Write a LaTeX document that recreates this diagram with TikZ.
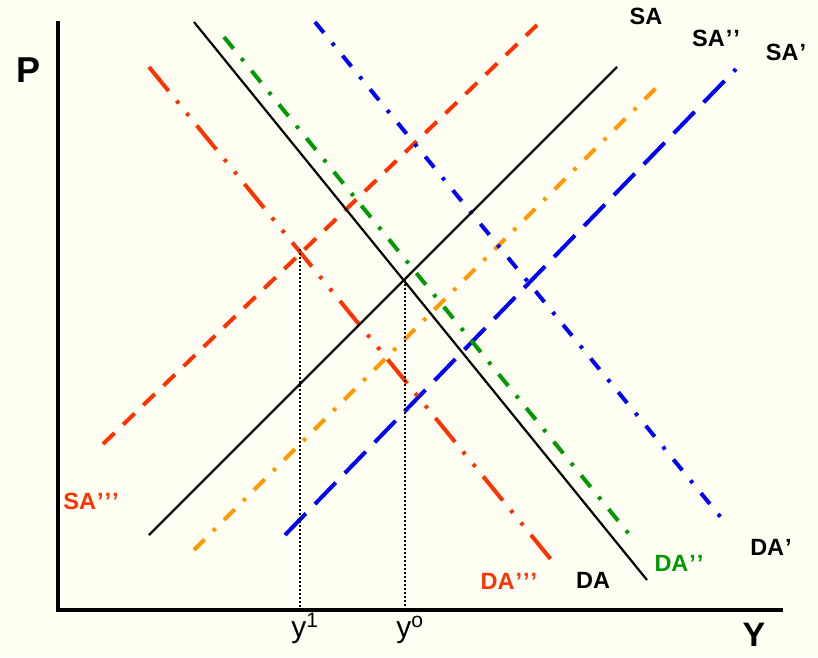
\documentclass[tikz,border=0pt]{standalone}
\usepackage{fontspec}
\setmainfont{Liberation Sans}
\definecolor{bgc}{RGB}{255,255,244}
\definecolor{redo}{RGB}{255,51,0}
\definecolor{orng}{RGB}{255,153,0}
\definecolor{grn}{RGB}{0,153,0}
\definecolor{blu}{RGB}{0,0,255}
\newcommand{\qq}{\kern1pt’}
\tikzset{
  axisline/.style={line width=4pt},
  blackcurve/.style={line width=2.2pt, line cap=butt},
  sattt/.style={redo, line width=4pt, dash pattern=on 16pt off 12pt},
  saprime/.style={blu, line width=4pt, dash pattern=on 30pt off 13pt},
  sadbl/.style={orng, line width=4pt, dash pattern=on 15pt off 12pt on 3.5pt off 12pt},
  dadbl/.style={grn, line width=4pt, dash pattern=on 15pt off 12.5pt on 3.5pt off 12.5pt},
  daprime/.style={blu, line width=4pt, dash pattern=on 14pt off 13pt on 3.5pt off 13pt},
  datt/.style={redo, line width=4pt, dash pattern=on 31pt off 12.5pt on 3.5pt off 12.5pt on 3.5pt off 12.5pt},
  guide/.style={line width=1.6pt, dash pattern=on 1.6pt off 2.4pt},
  lbl/.style={font=\fontsize{23.5}{26}\selectfont\bfseries, inner sep=0pt},
  axlbl/.style={font=\fontsize{36}{40}\selectfont\bfseries, inner sep=0pt},
  ylbl/.style={font=\fontsize{30}{34}\selectfont, inner sep=0pt, anchor=base}
}
\begin{document}
\begin{tikzpicture}[x=1pt,y=-1pt]
\fill[bgc] (0,0) rectangle (818,657);
\useasboundingbox (0,0) rectangle (818,657);
% axes
\coordinate (otop) at (58,21);
\coordinate (orig) at (58,610);
\coordinate (xend) at (783,610);
\draw[axisline] (otop) -- (orig) -- (xend);
% curve endpoints
\coordinate (saA) at (149,535);   \coordinate (saB) at (617,67);
\coordinate (daA) at (194,22);    \coordinate (daB) at (647,580);
\coordinate (sa3A) at (103,444);  \coordinate (sa3B) at (537,25);
\coordinate (sa2A) at (194,550);  \coordinate (sa2B) at (663,81);
\coordinate (sa1A) at (285,535);  \coordinate (sa1B) at (736,69);
\coordinate (da2A) at (224,37);   \coordinate (da2B) at (633,539);
\coordinate (da1A) at (315,22);   \coordinate (da1B) at (723,520);
\coordinate (da3A) at (149,67);   \coordinate (da3B) at (553,562);
% curves
\draw[sattt] (sa3A) -- (sa3B);
\draw[sadbl] (sa2A) -- (sa2B);
\draw[saprime] (sa1A) -- (sa1B);
\draw[dadbl] (da2A) -- (da2B);
\draw[daprime] (da1A) -- (da1B);
\draw[datt] (da3A) -- (da3B);
\draw[blackcurve] (saA) -- (saB);
\draw[blackcurve] (daA) -- (daB);
% guides
\coordinate (e1) at (300,249); \coordinate (b1) at (300,608);
\coordinate (e0) at (405,280); \coordinate (b0) at (405,608);
\draw[guide] (e1) -- (b1);
\draw[guide] (e0) -- (b0);
% labels
\node[axlbl] (P) at (29,70) {P};
\node[axlbl, font=\fontsize{34}{38}\selectfont\bfseries] (Y) at (754,635) {Y};
\node[lbl] (lSA) at (646,16) {SA};
\node[lbl] (lSA2) at (716,38) {SA\qq\qq};
\node[lbl] (lSA1) at (786,52) {SA\qq};
\node[lbl, text=redo] (lSA3) at (91,501) {SA\qq\qq\qq};
\node[lbl, text=redo] (lDA3) at (509,581) {DA\qq\qq\qq};
\node[lbl] (lDA) at (593,580) {DA};
\node[lbl, text=grn] (lDA2) at (679,563) {DA\qq\qq};
\node[lbl] (lDA1) at (771,547) {DA\qq};
\node[ylbl] (y1) at (305,637) {y\textsuperscript{1}};
\node[ylbl] (y0) at (410,637) {y\textsuperscript{o}};
\end{tikzpicture}
\end{document}
